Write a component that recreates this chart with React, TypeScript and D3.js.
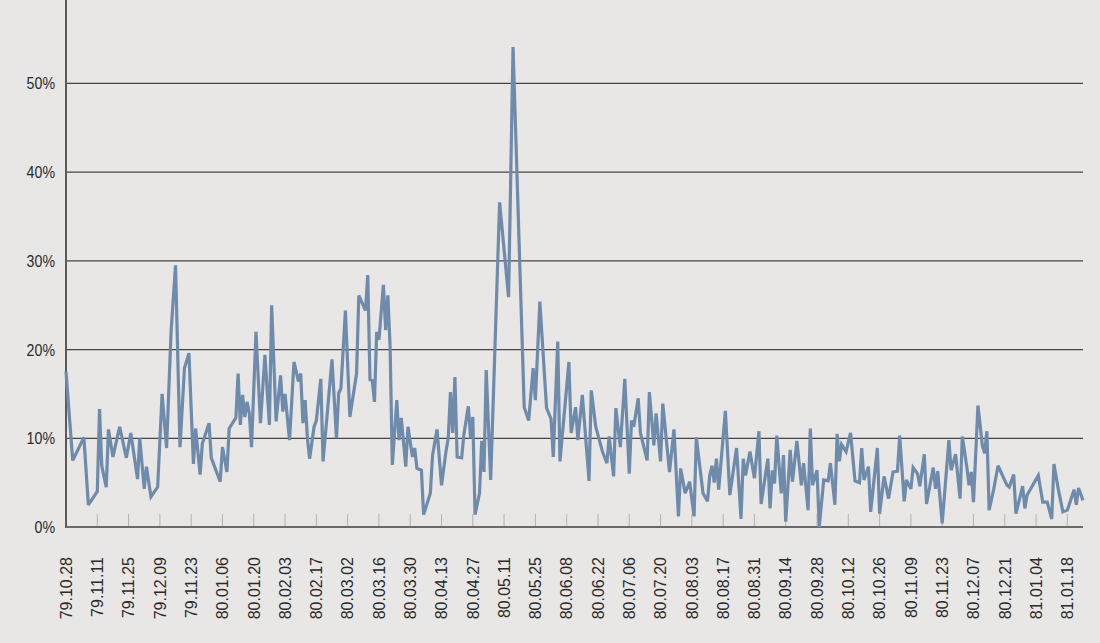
import { useEffect, useRef } from 'react';
import * as d3 from 'd3';

// day offsets from 1979-10-28 and the rate (%) on that day
const dayOffsets = [
  0, 3, 8, 10, 14, 15, 16, 18, 19, 21,
  24, 27, 29, 32, 33, 35, 36, 38, 41, 43,
  45, 47, 49, 51, 53, 55, 57, 58, 60, 61,
  64, 65, 69, 70, 72, 73, 76, 77, 78, 79,
  80, 81, 82, 83, 85, 87, 89, 91, 92, 94,
  96, 97, 98, 100, 102, 104, 105, 106, 107, 108,
  109, 111, 112, 114, 115, 119, 121, 122, 123, 125,
  127, 130, 131, 134, 135, 136, 137, 138, 139, 140,
  142, 143, 144, 145, 146, 148, 149, 150, 152, 153,
  155, 156, 157, 159, 160, 163, 164, 166, 168, 170,
  171, 172, 173, 174, 175, 177, 178, 180, 181, 182,
  183, 185, 186, 187, 188, 190, 194, 198, 200, 205,
  207, 209, 210, 212, 215, 217, 218, 220, 221, 225,
  226, 228, 229, 231, 234, 235, 237, 240, 242, 243,
  245, 246, 248, 250, 252, 253, 254, 256, 257, 260,
  261, 263, 264, 266, 267, 270, 272, 274, 275, 277,
  279, 281, 282, 285, 287, 288, 289, 290, 291, 292,
  295, 297, 300, 302, 303, 304, 306, 308, 310, 311,
  314, 315, 316, 317, 318, 320, 321, 322, 324, 325,
  327, 329, 330, 332, 333, 334, 336, 337, 339, 341,
  342, 344, 345, 346, 347, 349, 351, 353, 355, 356,
  357, 359, 360, 363, 364, 366, 368, 370, 372, 373,
  375, 376, 378, 379, 381, 382, 384, 385, 388, 389,
  390, 392, 395, 396, 398, 400, 401, 403, 404, 405,
  406, 408, 410, 411, 412, 413, 415, 417, 421, 422,
  424, 425, 428, 429, 430, 435, 437, 439, 441, 442,
  444, 446, 448, 451, 452, 453, 455,
];

const rates = [
  17.5, 7.5, 10.1, 2.5, 4.0, 13.3, 6.9, 4.5, 11.0, 7.9,
  11.3, 7.8, 10.6, 5.4, 10.0, 4.3, 6.8, 3.4, 4.5, 15.0,
  8.9, 22.0, 29.5, 9.0, 17.9, 19.6, 7.1, 11.1, 5.9, 9.4,
  11.7, 7.8, 5.1, 9.0, 6.2, 11.1, 12.3, 17.3, 11.5, 14.9,
  12.4, 14.1, 12.8, 9.0, 22.0, 11.7, 19.4, 11.5, 25.0, 11.9,
  17.1, 13.0, 15.0, 9.8, 18.6, 16.4, 17.3, 11.7, 14.3, 10.0,
  7.7, 11.3, 12.0, 16.7, 7.4, 18.9, 10.0, 15.1, 15.6, 24.4,
  12.4, 17.3, 26.1, 24.4, 28.4, 16.6, 16.5, 14.1, 22.0, 21.1,
  27.3, 22.2, 26.1, 20.3, 7.0, 14.3, 9.8, 12.3, 6.8, 11.3,
  7.9, 8.9, 6.6, 6.4, 1.4, 3.8, 8.1, 11.0, 4.7, 8.5,
  10.0, 15.2, 10.6, 16.9, 7.9, 7.8, 10.4, 13.6, 10.0, 12.4,
  1.4, 3.8, 9.7, 6.2, 17.7, 5.3, 36.6, 25.9, 54.1, 13.5,
  12.0, 17.9, 14.3, 25.4, 13.4, 12.2, 7.9, 20.9, 7.4, 18.6,
  10.6, 13.5, 9.8, 14.9, 5.2, 15.4, 11.3, 8.5, 7.2, 10.2,
  5.7, 13.4, 9.0, 16.7, 6.0, 12.0, 11.3, 14.5, 10.6, 7.5,
  15.2, 9.2, 12.8, 7.4, 13.9, 6.2, 11.0, 1.2, 6.6, 3.8,
  5.1, 1.2, 10.1, 3.8, 2.9, 5.8, 6.9, 5.0, 7.7, 4.2,
  13.1, 3.6, 8.9, 0.9, 7.7, 5.8, 8.5, 5.5, 10.8, 2.6,
  7.7, 2.1, 6.4, 4.9, 10.3, 3.8, 8.1, 0.6, 8.7, 5.1,
  9.7, 4.7, 7.2, 1.9, 11.1, 4.7, 6.4, 0.0, 5.3, 5.2,
  7.2, 2.5, 10.5, 7.4, 9.3, 8.5, 10.6, 5.2, 5.0, 8.9,
  5.3, 6.8, 1.7, 8.9, 1.5, 5.7, 3.2, 6.2, 6.3, 10.3,
  2.9, 5.3, 4.3, 6.7, 6.0, 4.6, 8.2, 2.6, 6.7, 4.3,
  6.3, 0.4, 9.8, 6.4, 8.2, 3.2, 10.2, 6.8, 4.7, 6.2,
  2.8, 13.7, 9.1, 8.3, 10.8, 1.9, 4.2, 6.9, 4.7, 4.5,
  5.9, 1.5, 4.6, 2.1, 3.6, 5.8, 2.8, 2.8, 0.9, 7.1,
  4.2, 1.7, 1.9, 4.2, 2.5, 4.4, 3.0,
];

// labels as printed (every 14 days, incl. the "79.11.23" misprint)
const tickLabels = [
  '79.10.28', '79.11.11', '79.11.25', '79.12.09', '79.11.23', '80.01.06',
  '80.01.20', '80.02.03', '80.02.17', '80.03.02', '80.03.16', '80.03.30',
  '80.04.13', '80.04.27', '80.05.11', '80.05.25', '80.06.08', '80.06.22',
  '80.07.06', '80.07.20', '80.08.03', '80.08.17', '80.08.31', '80.09.14',
  '80.09.28', '80.10.12', '80.10.26', '80.11.09', '80.11.23', '80.12.07',
  '80.12.21', '81.01.04', '81.01.18',
];

const yTicks = [0, 10, 20, 30, 40, 50];

const startDate = new Date(1979, 9, 28);
const endDate = d3.timeDay.offset(startDate, 455);

const W = 1100;
const H = 643;
const FONT = "'Liberation Sans', Arial, sans-serif";

export default function App() {
  const svgRef = useRef<SVGSVGElement>(null);

  useEffect(() => {
    if (!svgRef.current) return;
    const svg = d3.select(svgRef.current);
    svg.selectAll('*').remove();

    const left = 66;
    const right = 1083;
    const bottom = 527;

    const x = d3.scaleTime().domain([startDate, endDate]).range([left, right]);
    const y = d3.scaleLinear().domain([0, 59.4]).range([bottom, 0]);

    svg.append('rect').attr('width', W).attr('height', H).attr('fill', '#e8e7e5');

    // horizontal gridlines
    svg
      .append('g')
      .selectAll('line')
      .data(yTicks.filter((t) => t > 0))
      .join('line')
      .attr('x1', left)
      .attr('x2', right)
      .attr('y1', (d) => y(d))
      .attr('y2', (d) => y(d))
      .attr('stroke', '#454545')
      .attr('stroke-width', 1.3);

    // small upward ticks on the date axis
    const tickDates = tickLabels.map((_, i) => d3.timeDay.offset(startDate, i * 14));
    svg
      .append('g')
      .selectAll('line')
      .data(tickDates.slice(1))
      .join('line')
      .attr('x1', (d) => x(d))
      .attr('x2', (d) => x(d))
      .attr('y1', bottom - 13)
      .attr('y2', bottom)
      .attr('stroke', '#b3b3b3')
      .attr('stroke-width', 1);

    // axes
    svg
      .append('line')
      .attr('x1', left)
      .attr('x2', left)
      .attr('y1', 0)
      .attr('y2', bottom + 1)
      .attr('stroke', '#5a5a5a')
      .attr('stroke-width', 2);
    svg
      .append('line')
      .attr('x1', left)
      .attr('x2', right)
      .attr('y1', bottom)
      .attr('y2', bottom)
      .attr('stroke', '#6a6a6a')
      .attr('stroke-width', 2);

    // y labels (squeezed horizontally, condensed look)
    svg
      .append('g')
      .selectAll('text')
      .data(yTicks)
      .join('text')
      .attr('transform', (d) => `translate(55,${y(d)}) scale(0.86,1)`)
      .attr('dy', '0.36em')
      .attr('text-anchor', 'end')
      .attr('font-size', 16.5)
      .attr('font-family', FONT)
      .attr('fill', '#2a2a2a')
      .text((d) => `${d}%`);

    // x labels, rotated
    svg
      .append('g')
      .selectAll('text')
      .data(tickDates)
      .join('text')
      .attr('transform', (d) => `translate(${x(d)},557) rotate(-90)`)
      .attr('dy', '0.36em')
      .attr('text-anchor', 'end')
      .attr('font-size', 16)
      .attr('font-family', FONT)
      .attr('fill', '#2a2a2a')
      .text((_, i) => tickLabels[i]);

    // series line
    const points = dayOffsets.map((d, i) => ({
      date: d3.timeDay.offset(startDate, d),
      value: rates[i],
    }));
    const line = d3
      .line<{ date: Date; value: number }>()
      .x((d) => x(d.date))
      .y((d) => y(d.value));

    svg
      .append('path')
      .datum(points)
      .attr('fill', 'none')
      .attr('stroke', '#6f8bab')
      .attr('stroke-width', 3.2)
      .attr('stroke-linejoin', 'miter')
      .attr('stroke-miterlimit', 3)
      .attr('d', line);
  }, []);

  return (
    <svg
      ref={svgRef}
      width={W}
      height={H}
      style={{ position: 'absolute', left: 0, top: 0, display: 'block' }}
    />
  );
}
